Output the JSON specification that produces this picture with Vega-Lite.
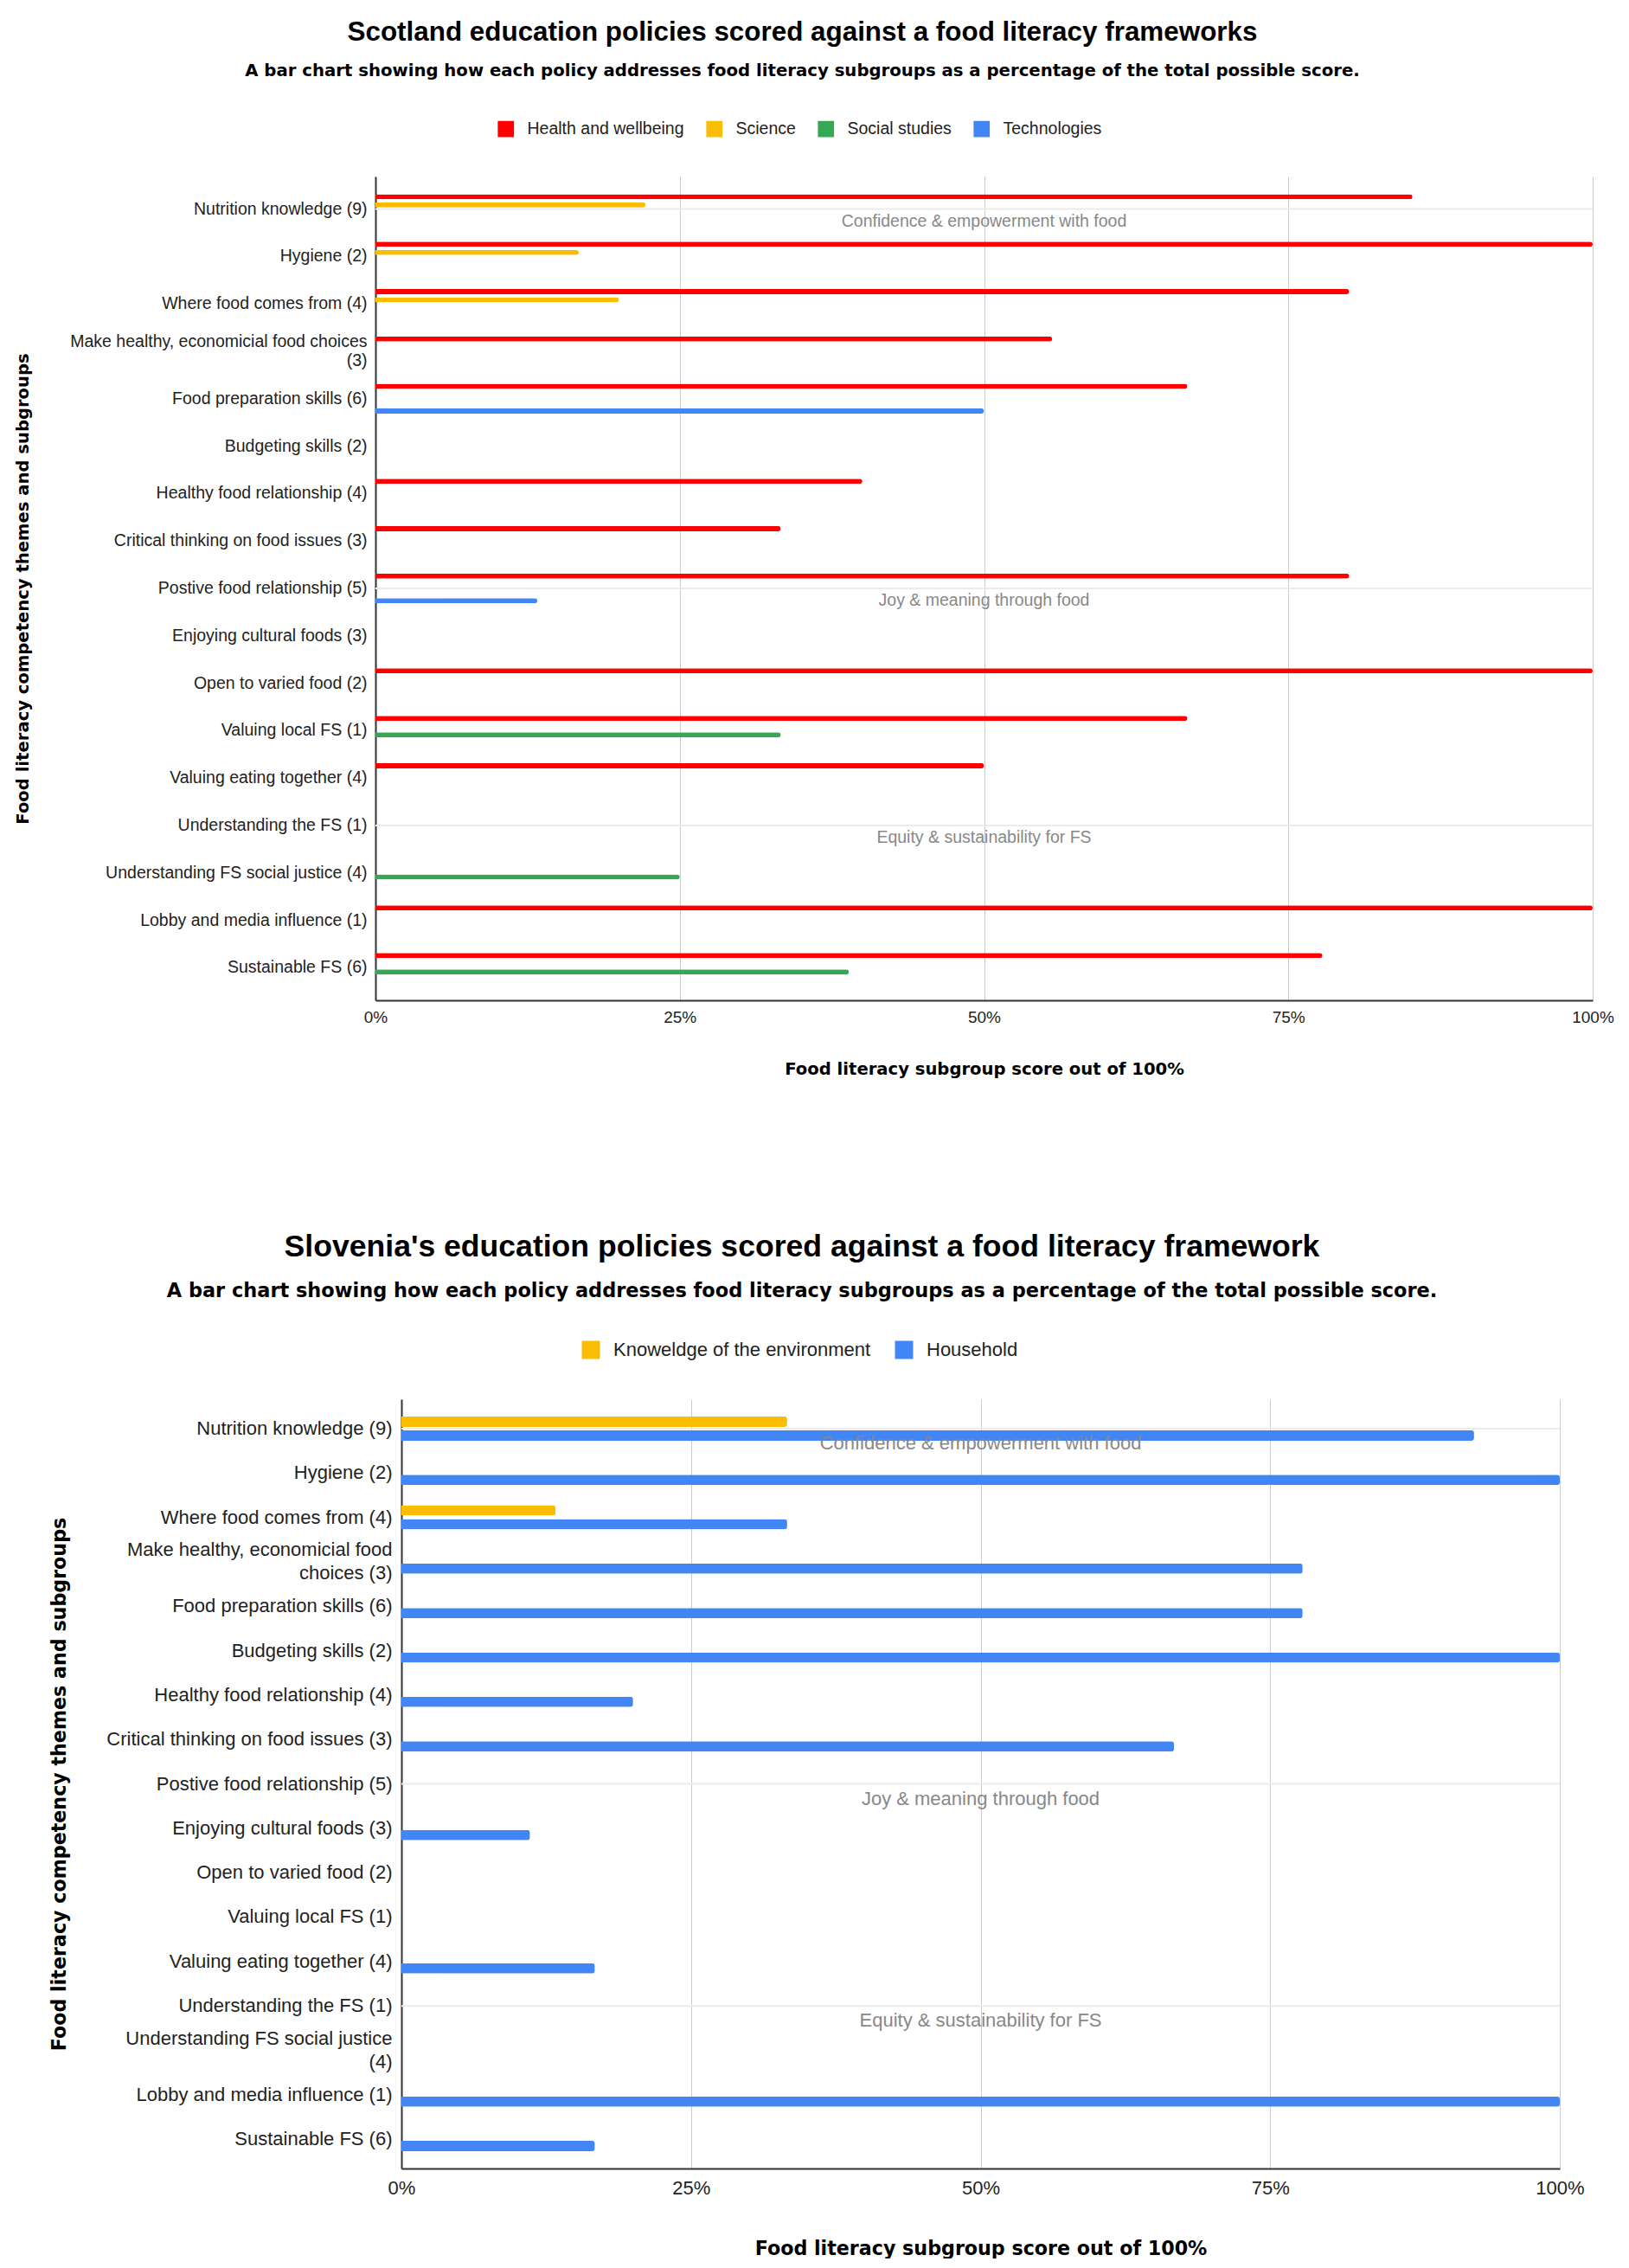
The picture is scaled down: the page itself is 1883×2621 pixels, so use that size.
{
  "$schema": "https://vega.github.io/schema/vega-lite/v6.json",
  "background": "white",
  "padding": {"left": 16, "top": 21, "right": 0, "bottom": 0},
  "spacing": 178,
  "resolve": {"scale": {"color": "independent", "yOffset": "independent", "x": "independent", "y": "independent"}, "legend": {"color": "independent"}},
  "config": {
    "view": {"stroke": null},
    "axis": {"ticks": false, "domainColor": "#333333", "labelColor": "#222222", "titleColor": "#000000"}
  },
  "datasets": {
    "scotland": [
      {"subgroup": "Nutrition knowledge (9)", "subject": "Health and wellbeing", "score": 0.852},
      {"subgroup": "Nutrition knowledge (9)", "subject": "Science", "score": 0.222},
      {"subgroup": "Hygiene (2)", "subject": "Health and wellbeing", "score": 1.0},
      {"subgroup": "Hygiene (2)", "subject": "Science", "score": 0.167},
      {"subgroup": "Where food comes from (4)", "subject": "Health and wellbeing", "score": 0.8},
      {"subgroup": "Where food comes from (4)", "subject": "Science", "score": 0.2},
      {"subgroup": "Make healthy, economicial food choices (3)", "subject": "Health and wellbeing", "score": 0.556},
      {"subgroup": "Food preparation skills (6)", "subject": "Health and wellbeing", "score": 0.667},
      {"subgroup": "Food preparation skills (6)", "subject": "Technologies", "score": 0.5},
      {"subgroup": "Healthy food relationship (4)", "subject": "Health and wellbeing", "score": 0.4},
      {"subgroup": "Critical thinking on food issues (3)", "subject": "Health and wellbeing", "score": 0.333},
      {"subgroup": "Postive food relationship (5)", "subject": "Health and wellbeing", "score": 0.8},
      {"subgroup": "Postive food relationship (5)", "subject": "Technologies", "score": 0.133},
      {"subgroup": "Open to varied food (2)", "subject": "Health and wellbeing", "score": 1.0},
      {"subgroup": "Valuing local FS (1)", "subject": "Health and wellbeing", "score": 0.667},
      {"subgroup": "Valuing local FS (1)", "subject": "Social studies", "score": 0.333},
      {"subgroup": "Valuing eating together (4)", "subject": "Health and wellbeing", "score": 0.5},
      {"subgroup": "Understanding FS social justice (4)", "subject": "Social studies", "score": 0.25},
      {"subgroup": "Lobby and media influence (1)", "subject": "Health and wellbeing", "score": 1.0},
      {"subgroup": "Sustainable FS (6)", "subject": "Health and wellbeing", "score": 0.778},
      {"subgroup": "Sustainable FS (6)", "subject": "Social studies", "score": 0.389}
    ],
    "slovenia": [
      {"subgroup": "Nutrition knowledge (9)", "subject": "Knoweldge of the environment", "score": 0.333},
      {"subgroup": "Nutrition knowledge (9)", "subject": "Household", "score": 0.926},
      {"subgroup": "Hygiene (2)", "subject": "Household", "score": 1.0},
      {"subgroup": "Where food comes from (4)", "subject": "Knoweldge of the environment", "score": 0.133},
      {"subgroup": "Where food comes from (4)", "subject": "Household", "score": 0.333},
      {"subgroup": "Make healthy, economicial food choices (3)", "subject": "Household", "score": 0.778},
      {"subgroup": "Food preparation skills (6)", "subject": "Household", "score": 0.778},
      {"subgroup": "Budgeting skills (2)", "subject": "Household", "score": 1.0},
      {"subgroup": "Healthy food relationship (4)", "subject": "Household", "score": 0.2},
      {"subgroup": "Critical thinking on food issues (3)", "subject": "Household", "score": 0.667},
      {"subgroup": "Enjoying cultural foods (3)", "subject": "Household", "score": 0.111},
      {"subgroup": "Valuing eating together (4)", "subject": "Household", "score": 0.167},
      {"subgroup": "Lobby and media influence (1)", "subject": "Household", "score": 1.0},
      {"subgroup": "Sustainable FS (6)", "subject": "Household", "score": 0.167}
    ],
    "themes": [
      {"subgroup": "Nutrition knowledge (9)", "theme": "Confidence & empowerment with food"},
      {"subgroup": "Postive food relationship (5)", "theme": "Joy & meaning through food"},
      {"subgroup": "Understanding the FS (1)", "theme": "Equity & sustainability for FS"}
    ]
  },
  "vconcat": [
    {
      "width": 1407,
      "height": 952,
      "title": {
        "text": "Scotland education policies scored against a food literacy frameworks",
        "subtitle": "A bar chart showing how each policy addresses food literacy subgroups as a percentage of the total possible score.",
        "anchor": "middle", "frame": "group", "dx": -210,
        "font": "Liberation Sans", "fontSize": 31.4, "fontWeight": "bold", "color": "#000000",
        "subtitleFont": "DejaVu Sans", "subtitleFontSize": 19.7, "subtitleFontWeight": "bold", "subtitleColor": "#000000",
        "subtitlePadding": 19, "offset": 47
      },
      "encoding": {
        "y": {
          "field": "subgroup", "type": "nominal",
          "title": "Food literacy competency themes and subgroups",
          "scale": {
            "domain": ["Nutrition knowledge (9)", "Hygiene (2)", "Where food comes from (4)", "Make healthy, economicial food choices (3)", "Food preparation skills (6)", "Budgeting skills (2)", "Healthy food relationship (4)", "Critical thinking on food issues (3)", "Postive food relationship (5)", "Enjoying cultural foods (3)", "Open to varied food (2)", "Valuing local FS (1)", "Valuing eating together (4)", "Understanding the FS (1)", "Understanding FS social justice (4)", "Lobby and media influence (1)", "Sustainable FS (6)"],
            "paddingInner": 0.307, "paddingOuter": 0.34
          },
          "axis": {
            "domainWidth": 2, "labelFont": "Liberation Sans", "labelFontSize": 19.5, "labelPadding": 10, "labelLimit": 600,
            "labelLineHeight": 22,
            "labelOffset": {"condition": {"test": "datum.value == 'Make healthy, economicial food choices (3)'", "value": -11}, "value": 0},
            "labelExpr": "datum.value == 'Make healthy, economicial food choices (3)' ? ['Make healthy, economicial food choices', '(3)'] : datum.value",
            "titleFont": "DejaVu Sans", "titleFontSize": 19.6, "titleFontWeight": "bold", "titlePadding": 0,
            "minExtent": 398, "maxExtent": 398
          }
        }
      },
      "layer": [
        {
          "data": {"name": "themes"},
          "mark": {"type": "rule", "color": "#ebebeb", "strokeWidth": 2},
          "encoding": {
            "x": {"datum": 0, "type": "quantitative", "title": "Food literacy subgroup score out of 100%"},
            "x2": {"datum": 1}
          }
        },
        {
          "data": {"name": "scotland"},
          "mark": {"type": "bar", "cornerRadiusEnd": 3},
          "encoding": {
            "x": {
              "field": "score", "type": "quantitative",
              "title": "Food literacy subgroup score out of 100%",
              "scale": {"domain": [0, 1], "nice": false},
              "axis": {
                "values": [0, 0.25, 0.5, 0.75, 1], "format": ".0%", "grid": true, "gridColor": "#cccccc",
                "domainWidth": 2, "labelFlush": false, "labelFont": "Liberation Sans", "labelFontSize": 19, "labelPadding": 10,
                "titleFont": "DejaVu Sans", "titleFontSize": 19.6, "titleFontWeight": "bold", "titlePadding": 41
              }
            },
            "yOffset": {
              "field": "subject", "type": "nominal",
              "scale": {"domain": ["Health and wellbeing", "Science", "Social studies", "Technologies"], "paddingInner": 0.37, "paddingOuter": 0.185}
            },
            "color": {
              "field": "subject", "type": "nominal",
              "scale": {"domain": ["Health and wellbeing", "Science", "Social studies", "Technologies"], "range": ["#ff0000", "#fbbc04", "#34a853", "#4285f4"]},
              "legend": {
                "orient": "none", "legendX": 141, "legendY": -65, "direction": "horizontal", "title": null,
                "symbolType": "square", "symbolSize": 350, "symbolStrokeWidth": 0,
                "labelFont": "Liberation Sans", "labelFontSize": 19.5, "labelColor": "#222222", "labelLimit": 500,
                "labelOffset": 15, "columnPadding": 25
              }
            }
          }
        },
        {
          "data": {"name": "themes"},
          "mark": {"type": "text", "dy": 14, "color": "#888888", "font": "Liberation Sans", "fontSize": 19.5, "align": "center", "baseline": "middle"},
          "encoding": {
            "x": {"datum": 0.5, "type": "quantitative", "title": "Food literacy subgroup score out of 100%"},
            "text": {"field": "theme"}
          }
        }
      ]
    },
    {
      "width": 1369,
      "height": 889,
      "title": {
        "text": "Slovenia's education policies scored against a food literacy framework",
        "subtitle": "A bar chart showing how each policy addresses food literacy subgroups as a percentage of the total possible score.",
        "anchor": "middle", "frame": "group", "dx": -191.5,
        "font": "Liberation Sans", "fontSize": 35.6, "fontWeight": "bold", "color": "#000000",
        "subtitleFont": "DejaVu Sans", "subtitleFontSize": 22.45, "subtitleFontWeight": "bold", "subtitleColor": "#000000",
        "subtitlePadding": 21, "offset": 46
      },
      "encoding": {
        "y": {
          "field": "subgroup", "type": "nominal",
          "title": "Food literacy competency themes and subgroups",
          "scale": {
            "domain": ["Nutrition knowledge (9)", "Hygiene (2)", "Where food comes from (4)", "Make healthy, economicial food choices (3)", "Food preparation skills (6)", "Budgeting skills (2)", "Healthy food relationship (4)", "Critical thinking on food issues (3)", "Postive food relationship (5)", "Enjoying cultural foods (3)", "Open to varied food (2)", "Valuing local FS (1)", "Valuing eating together (4)", "Understanding the FS (1)", "Understanding FS social justice (4)", "Lobby and media influence (1)", "Sustainable FS (6)"],
            "paddingInner": 0.377, "paddingOuter": 0.349
          },
          "axis": {
            "offset": -30,
            "domainWidth": 2, "labelFont": "Liberation Sans", "labelFontSize": 22, "labelPadding": 11, "labelLimit": 600,
            "labelLineHeight": 27,
            "labelOffset": {"condition": {"test": "datum.value == 'Make healthy, economicial food choices (3)' || datum.value == 'Understanding FS social justice (4)'", "value": -13.5}, "value": 0},
            "labelExpr": "datum.value == 'Make healthy, economicial food choices (3)' ? ['Make healthy, economicial food', 'choices (3)'] : datum.value == 'Understanding FS social justice (4)' ? ['Understanding FS social justice', '(4)'] : datum.value",
            "titleFont": "DejaVu Sans", "titleFontSize": 22.2, "titleFontWeight": "bold", "titlePadding": 0,
            "minExtent": 384, "maxExtent": 384
          }
        }
      },
      "layer": [
        {
          "data": {"name": "themes"},
          "mark": {"type": "rule", "color": "#ebebeb", "strokeWidth": 2},
          "encoding": {
            "x": {"datum": 0, "type": "quantitative", "title": "Food literacy subgroup score out of 100%"},
            "x2": {"datum": 1}
          }
        },
        {
          "data": {"name": "slovenia"},
          "mark": {"type": "bar", "cornerRadiusEnd": 3},
          "encoding": {
            "x": {
              "field": "score", "type": "quantitative",
              "title": "Food literacy subgroup score out of 100%",
              "scale": {"domain": [0, 1], "nice": false, "range": [30, 1369]},
              "axis": {
                "values": [0, 0.25, 0.5, 0.75, 1], "format": ".0%", "grid": true, "gridColor": "#cccccc",
                "domainWidth": 2, "labelFlush": false, "labelFont": "Liberation Sans", "labelFontSize": 22, "labelPadding": 12,
                "titleFont": "DejaVu Sans", "titleFontSize": 22.2, "titleFontWeight": "bold", "titlePadding": 48
              }
            },
            "yOffset": {
              "field": "subject", "type": "nominal",
              "scale": {"domain": ["Knoweldge of the environment", "Household"], "paddingInner": 0.25, "paddingOuter": 0.125}
            },
            "color": {
              "field": "subject", "type": "nominal",
              "scale": {"domain": ["Knoweldge of the environment", "Household"], "range": ["#fbbc04", "#4285f4"]},
              "legend": {
                "orient": "none", "legendX": 238, "legendY": -68, "direction": "horizontal", "title": null,
                "symbolType": "square", "symbolSize": 441, "symbolStrokeWidth": 0,
                "labelFont": "Liberation Sans", "labelFontSize": 22, "labelColor": "#222222", "labelLimit": 500,
                "labelOffset": 15, "columnPadding": 27
              }
            }
          }
        },
        {
          "data": {"name": "themes"},
          "mark": {"type": "text", "dy": 17, "color": "#888888", "font": "Liberation Sans", "fontSize": 22, "align": "center", "baseline": "middle"},
          "encoding": {
            "x": {"datum": 0.5, "type": "quantitative", "title": "Food literacy subgroup score out of 100%"},
            "text": {"field": "theme"}
          }
        }
      ]
    }
  ]
}
